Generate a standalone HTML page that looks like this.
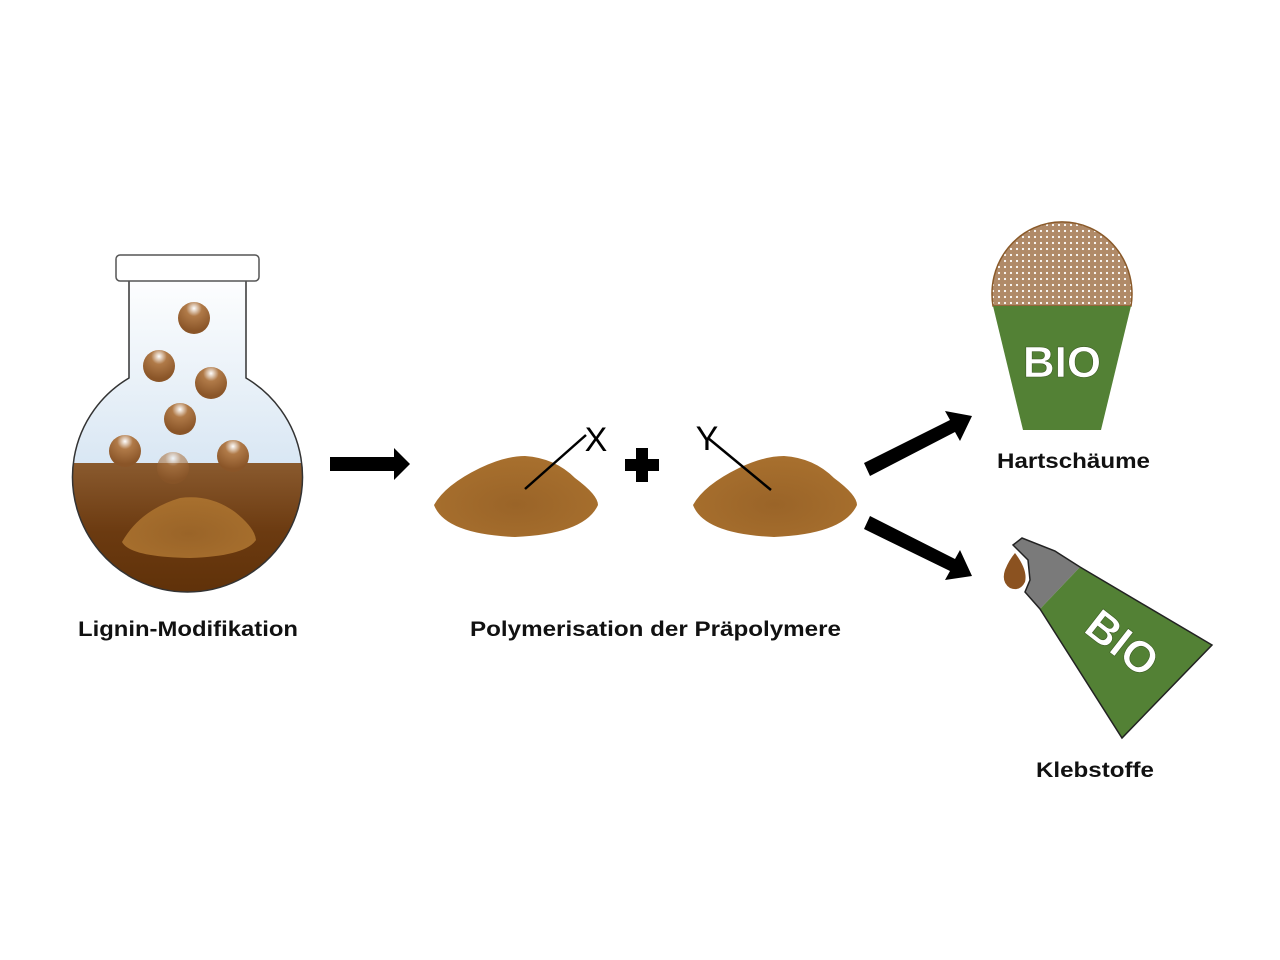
<!DOCTYPE html>
<html><head><meta charset="utf-8"><style>
html,body{margin:0;padding:0;background:#fff}
svg{display:block}
text{font-family:"Liberation Sans",Arial,sans-serif;font-weight:bold}
</style></head><body>
<svg width="1280" height="960" viewBox="0 0 1280 960" xmlns="http://www.w3.org/2000/svg">
<defs>
<linearGradient id="air" x1="0" y1="0" x2="0" y2="1">
<stop offset="0" stop-color="#ffffff"/><stop offset="1" stop-color="#d8e6f3"/></linearGradient>
<linearGradient id="liq" x1="0" y1="0" x2="0" y2="1">
<stop offset="0" stop-color="#8a5a2e"/><stop offset="0.5" stop-color="#6b3a10"/><stop offset="1" stop-color="#5e3008"/></linearGradient>
<radialGradient id="ball" cx="0.5" cy="0.2" r="0.7">
<stop offset="0" stop-color="#fff"/><stop offset="0.35" stop-color="#b07a48"/><stop offset="1" stop-color="#8a5528"/></radialGradient>
<radialGradient id="pile" cx="0.5" cy="0.6" r="0.6">
<stop offset="0" stop-color="#9a6428"/><stop offset="1" stop-color="#a8702e"/></radialGradient>
<pattern id="dots" width="6" height="6" patternUnits="userSpaceOnUse">
<rect width="6" height="6" fill="#b08a68"/><circle cx="3" cy="3" r="1.1" fill="#fff"/></pattern>
<clipPath id="flask"><path d="M129,281 V378 A115,115 0 1 0 246,378 V281 Z"/></clipPath>
</defs>

<g clip-path="url(#flask)">
<rect x="60" y="270" width="260" height="200" fill="url(#air)"/>
<rect x="60" y="463" width="260" height="140" fill="url(#liq)"/>
</g>
<path d="M129,281 V378 A115,115 0 1 0 246,378 V281" fill="none" stroke="#333" stroke-width="1.5"/>
<rect x="116" y="255" width="143" height="26" rx="4" fill="#fff" stroke="#555" stroke-width="1.5"/>
<path d="M122,542 Q140,510 180,498 Q210,494 235,512 Q255,528 256,540 Q245,556 190,558 Q130,557 122,542Z" fill="url(#pile)"/>
<g fill="url(#ball)">
<circle cx="194" cy="318" r="16"/><circle cx="159" cy="366" r="16"/><circle cx="211" cy="383" r="16"/>
<circle cx="180" cy="419" r="16"/><circle cx="125" cy="451" r="16"/><circle cx="233" cy="456" r="16"/>
<circle cx="173" cy="468" r="16" opacity="0.6"/></g>
<text x="78" y="636" font-size="21" textLength="220" lengthAdjust="spacingAndGlyphs" fill="#111">Lignin-Modifikation</text>

<polygon points="330,457 394,457 394,448 410,464 394,480 394,471 330,471" fill="#000"/>

<path d="M434,505 Q445,485 480,468 Q505,456 525,456 Q555,458 575,478 Q598,495 598,505 Q585,534 515,537 Q445,534 434,505Z" fill="url(#pile)"/>
<path d="M693,505 Q704,485 739,468 Q764,456 784,456 Q814,458 834,478 Q857,495 857,505 Q844,534 774,537 Q704,534 693,505Z" fill="url(#pile)"/>
<line x1="525" y1="489" x2="586" y2="435" stroke="#000" stroke-width="2.5"/>
<text x="596" y="451" font-size="34" text-anchor="middle" style="font-weight:normal" fill="#000">X</text>
<line x1="708" y1="438" x2="771" y2="490" stroke="#000" stroke-width="2.5"/>
<text x="707" y="450" font-size="34" text-anchor="middle" style="font-weight:normal" fill="#000">Y</text>
<polygon points="636,448 648,448 648,459 659,459 659,471 648,471 648,482 636,482 636,471 625,471 625,459 636,459" fill="#000"/>
<text x="470" y="636" font-size="21" textLength="371" lengthAdjust="spacingAndGlyphs" fill="#111">Polymerisation der Präpolymere</text>

<g fill="#000">
<polygon points="864,463 950,420 945,411 972,416 960,441 955,432 870,476"/>
<polygon points="870,516 955,559 960,550 972,576 945,580 950,571 864,529"/>
</g>

<path d="M993,306 A70,72 0 1 1 1131,306 Z" fill="url(#dots)" stroke="#8a5a2a" stroke-width="1.5"/>
<polygon points="993,306 1131,306 1101,430 1023,430" fill="#538135"/>
<text x="1062" y="377" font-size="44" text-anchor="middle" fill="#fff" stroke="#3a5a22" stroke-width="0.6">BIO</text>
<text x="997" y="468" font-size="21" textLength="153" lengthAdjust="spacingAndGlyphs" fill="#111">Hartschäume</text>

<polygon points="1013,545 1022,538 1055,551 1058,553 1080,567 1040,609 1025,592 1030,580 1028,560" fill="#7a7a7a"/>
<polygon points="1080,567 1212,645 1122,738 1040,609" fill="#538135"/>
<polygon points="1013,545 1022,538 1055,551 1058,553 1080,567 1212,645 1122,738 1040,609 1025,592 1030,580 1028,560" fill="none" stroke="#222" stroke-width="1.5"/>
<path d="M1015,553 Q1028,570 1025,582 Q1020,592 1010,588 Q1001,582 1005,570 Q1009,560 1015,553Z" fill="#8b5220"/>
<text x="0" y="0" font-size="44" text-anchor="middle" fill="#fff" stroke="#3a5a22" stroke-width="0.6" transform="translate(1113,655) rotate(38)">BIO</text>
<text x="1036" y="777" font-size="21" textLength="118" lengthAdjust="spacingAndGlyphs" fill="#111">Klebstoffe</text>
</svg>
</body></html>
